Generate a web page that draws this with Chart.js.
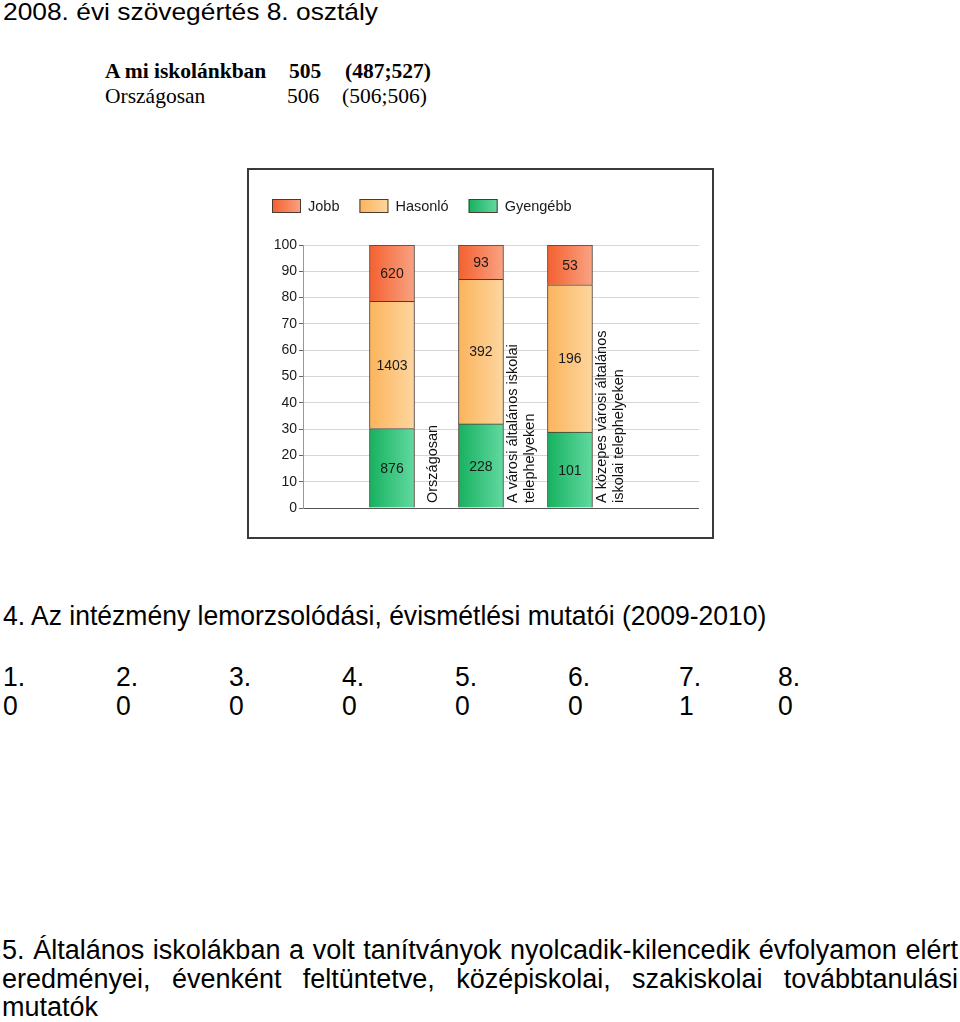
<!DOCTYPE html>
<html lang="hu">
<head>
<meta charset="utf-8">
<title>2008. évi szövegértés 8. osztály</title>
<script src="https://cdn.jsdelivr.net/npm/chart.js@4.4.1/dist/chart.umd.min.js"></script>
<style>
  html, body { margin: 0; padding: 0; background: #fff; }
  body { width: 960px; height: 1022px; position: relative; overflow: hidden;
         font-family: 'Liberation Sans', Arial, sans-serif; color: #000; }
  .abs { position: absolute; white-space: nowrap; }
  .title { left: 3px; top: -1px; font-size: 24px; line-height: 26px;
           transform: scaleX(1.098); transform-origin: 0 0; }
  .serif { font-family: 'Liberation Serif', 'Times New Roman', serif; font-size: 21.5px; line-height: 25px; }
  .bold { font-weight: bold; }
  .cond { font-size: 28px; line-height: 29px; transform: scaleX(0.947); transform-origin: 0 0; }
  #frame { position: absolute; left: 247px; top: 168px; width: 467px; height: 371px;
           border: 2px solid #3a3a3a; box-sizing: border-box; }
  #frame .wrap { position: relative; width: 463px; height: 367px; }
  .para { position: absolute; left: 2px; top: 936px; width: 956px; font-size: 27px; line-height: 28.5px;
          text-align: justify; }
</style>
</head>
<body>

<div class="abs title">2008. évi szövegértés 8. osztály</div>

<div class="abs serif bold" style="left:105px;top:59px">A mi iskolánkban</div>
<div class="abs serif bold" style="left:289px;top:59px">505</div>
<div class="abs serif bold" style="left:345px;top:59px">(487;527)</div>
<div class="abs serif" style="left:105px;top:84px">Országosan</div>
<div class="abs serif" style="left:287px;top:84px">506</div>
<div class="abs serif" style="left:342px;top:84px">(506;506)</div>

<div id="frame"><div class="wrap"><canvas id="chart"></canvas></div></div>

<div class="abs cond" style="left:3px;top:601px">4. Az intézmény lemorzsolódási, évismétlési mutatói (2009-2010)</div>
<div id="rows"></div>

<div class="para">5. Általános iskolákban a volt tanítványok nyolcadik-kilencedik évfolyamon elért eredményei, évenként feltüntetve, középiskolai, szakiskolai továbbtanulási mutatók</div>

<script>
// --- adatok ---
const categories = [
    ['Országosan'],
    ['A városi általános iskolai', 'telephelyeken'],
    ['A közepes városi általános', 'iskolai telephelyeken'],
];
const barPositions = [1, 2, 3];
const jobb = [620, 93, 53];
const hasonlo = [1403, 392, 196];
const gyengebb = [876, 228, 101];
const yTicks = [0, 10, 20, 30, 40, 50, 60, 70, 80, 90, 100];

// lemorzsolódás táblázat
const grades = ['1.', '2.', '3.', '4.', '5.', '6.', '7.', '8.'];
const dropouts = [0, 0, 0, 0, 0, 0, 1, 0];
const gradeX = [3, 116, 229, 342, 455, 568, 679, 778];

const FONT = "'Liberation Sans', Arial, sans-serif";
const BAR_W = 45;

// --- táblázat sorok ---
const rows = document.getElementById('rows');
grades.forEach((g, i) => {
    const a = document.createElement('div');
    a.className = 'abs cond';
    a.style.left = gradeX[i] + 'px';
    a.style.top = '662px';
    a.textContent = g;
    rows.appendChild(a);
    const b = document.createElement('div');
    b.className = 'abs cond';
    b.style.left = gradeX[i] + 'px';
    b.style.top = '691px';
    b.textContent = String(dropouts[i]);
    rows.appendChild(b);
});

// --- százalékok ---
const totals = barPositions.map((_, i) => jobb[i] + hasonlo[i] + gyengebb[i]);
const toPct = arr => arr.map((v, i) => ({ x: barPositions[i], y: v / totals[i] * 100 }));

function barFill(c1, c2) {
    return context => {
        const chart = context.chart;
        if (!chart.chartArea || context.type !== 'data') return c1;
        const px = chart.scales.x.getPixelForValue(context.raw.x);
        const g = chart.ctx.createLinearGradient(px - BAR_W / 2, 0, px + BAR_W / 2, 0);
        g.addColorStop(0, c1);
        g.addColorStop(1, c2);
        return g;
    };
}

const colors = {
    jobb: ['#f4602f', '#f9a383'],
    hasonlo: ['#fbb45c', '#fdd6a0'],
    gyengebb: ['#17b160', '#62d9a0'],
};

// --- számok a sávokon ---
const segmentLabels = {
    id: 'segmentLabels',
    afterDatasetsDraw(chart) {
        const ctx = chart.ctx;
        ctx.save();
        ctx.font = `14px ${FONT}`;
        ctx.fillStyle = '#1a1a1a';
        ctx.textAlign = 'center';
        ctx.textBaseline = 'middle';
        chart.data.datasets.forEach((ds, di) => {
            chart.getDatasetMeta(di).data.forEach((bar, i) => {
                ctx.fillText(String(ds.counts[i]), bar.x, (bar.y + bar.base) / 2 + 1);
            });
        });
        ctx.restore();
    }
};

// --- függőleges kategória feliratok ---
const categoryLabels = {
    id: 'categoryLabels',
    afterDatasetsDraw(chart) {
        const { ctx, chartArea, scales: { x } } = chart;
        ctx.save();
        ctx.font = `14.5px ${FONT}`;
        ctx.fillStyle = '#111';
        ctx.textAlign = 'left';
        ctx.textBaseline = 'middle';
        categories.forEach((lines, i) => {
            const cx = x.getPixelForValue(barPositions[i] + 0.46);
            ctx.save();
            ctx.translate(cx, chartArea.bottom - 5);
            ctx.rotate(-Math.PI / 2);
            lines.forEach((t, li) => ctx.fillText(t, 0, (li - (lines.length - 1) / 2) * 17));
            ctx.restore();
        });
        ctx.restore();
    }
};

// --- jelmagyarázat ---
const legendItems = [
    { text: 'Jobb', c: colors.jobb },
    { text: 'Hasonló', c: colors.hasonlo },
    { text: 'Gyengébb', c: colors.gyengebb },
];
const customLegend = {
    id: 'customLegend',
    afterDraw(chart) {
        const ctx = chart.ctx;
        ctx.save();
        ctx.font = `14.5px ${FONT}`;
        ctx.textBaseline = 'middle';
        let x = 23;
        const y = 29, bw = 29, bh = 14;
        legendItems.forEach(item => {
            const g = ctx.createLinearGradient(x, 0, x + bw, 0);
            g.addColorStop(0, item.c[0]);
            g.addColorStop(1, item.c[1]);
            ctx.fillStyle = g;
            ctx.fillRect(x, y, bw, bh);
            ctx.strokeStyle = '#4a3a30';
            ctx.lineWidth = 1;
            ctx.strokeRect(x + 0.5, y + 0.5, bw - 1, bh - 1);
            ctx.fillStyle = '#1a1a1a';
            ctx.fillText(item.text, x + bw + 7, y + bh / 2 + 0.5);
            x += bw + 7 + ctx.measureText(item.text).width + 20;
        });
        ctx.restore();
    }
};

const ds = (label, data, counts, c) => ({
    label,
    data: toPct(data),
    counts,
    backgroundColor: barFill(c[0], c[1]),
    borderColor: '#4a3a30',
    borderWidth: 1,
    barThickness: BAR_W,
});

new Chart(document.getElementById('chart'), {
    type: 'bar',
    data: {
        datasets: [
            ds('Gyengébb', gyengebb, gyengebb, colors.gyengebb),
            ds('Hasonló', hasonlo, hasonlo, colors.hasonlo),
            ds('Jobb', jobb, jobb, colors.jobb),
        ],
    },
    options: {
        responsive: true,
        maintainAspectRatio: false,
        animation: false,
        layout: { padding: { top: 75, right: 13, bottom: 29, left: 0 } },
        plugins: {
            legend: { display: false },
            tooltip: { enabled: false },
        },
        scales: {
            x: {
                type: 'linear',
                stacked: true,
                offset: false,
                min: 0,
                max: 4.45,
                display: false,
            },
            y: {
                stacked: true,
                min: 0,
                max: 100,
                afterBuildTicks: scale => { scale.ticks = yTicks.map(v => ({ value: v })); },
                afterFit: scale => { scale.width = 54; },
                ticks: { color: '#1a1a1a', font: { size: 14, family: FONT }, padding: 2 },
                grid: {
                    color: c => (c.tick && c.tick.value === 0 ? '#555' : '#d6d6d6'),
                    tickColor: '#666',
                    tickLength: 4,
                    lineWidth: 1,
                },
                border: { display: true, color: '#999' },
            },
        },
    },
    plugins: [segmentLabels, categoryLabels, customLegend],
});
</script>
</body>
</html>
